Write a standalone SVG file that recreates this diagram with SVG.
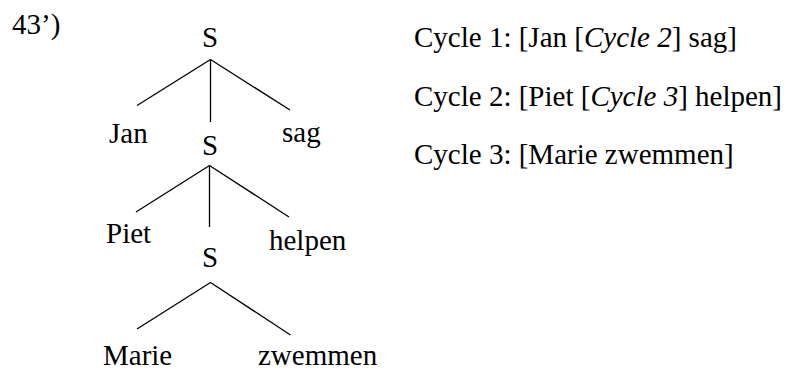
<svg xmlns="http://www.w3.org/2000/svg" width="787" height="370" viewBox="0 0 787 370">
<style>
text{font-family:'Liberation Serif','Times New Roman',Times,serif;font-size:29px;fill:#000}
.c{text-anchor:middle}
.e{stroke:#000;stroke-width:1.3;fill:none}
</style>
<rect width="787" height="370" fill="#fff"/>
<text x="12" y="34">43’)</text>
<g id="edges">
<line class="e" x1="210.5" y1="59.5" x2="137" y2="105.5"/>
<line class="e" x1="210.5" y1="59.5" x2="210.5" y2="122"/>
<line class="e" x1="210.5" y1="59.5" x2="290" y2="110"/>
<line class="e" x1="209.5" y1="165.5" x2="136" y2="212"/>
<line class="e" x1="209.5" y1="165.5" x2="209.5" y2="227"/>
<line class="e" x1="209.5" y1="165.5" x2="289" y2="217"/>
<line class="e" x1="210.5" y1="282.5" x2="137" y2="329"/>
<line class="e" x1="210.5" y1="282.5" x2="290.5" y2="335"/>
</g>
<g id="s1"><text class="c" x="210" y="47">S</text></g>
<g id="jan"><text x="109" y="143">Jan</text></g>
<g id="sag"><text x="282" y="142">sag</text></g>
<g id="s2"><text class="c" x="210" y="155">S</text></g>
<g id="piet"><text x="106" y="243">Piet</text></g>
<g id="helpen"><text x="269" y="250">helpen</text></g>
<g id="s3"><text class="c" x="210" y="267">S</text></g>
<g id="marie"><text x="103" y="365">Marie</text></g>
<g id="zwemmen"><text x="258" y="365">zwemmen</text></g>
<g id="cycles">
<text x="414" y="47">Cycle 1: [Jan [<tspan font-style="italic">Cycle 2</tspan>] sag]</text>
<text x="414" y="106">Cycle 2: [Piet [<tspan font-style="italic">Cycle 3</tspan>] helpen]</text>
<text x="414" y="164">Cycle 3: [Marie zwemmen]</text>
</g>
</svg>
